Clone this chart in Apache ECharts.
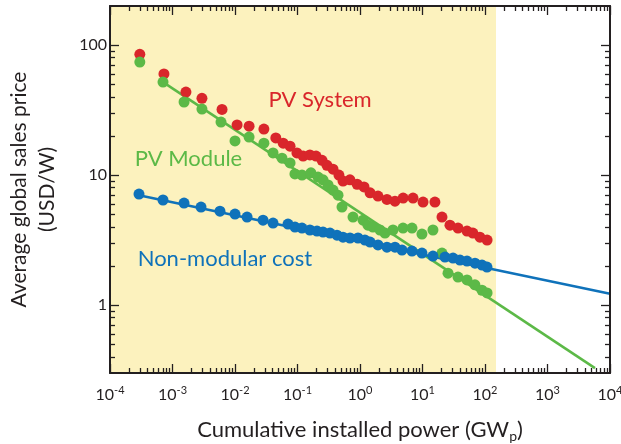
<!DOCTYPE html>
<html><head><meta charset="utf-8">
<script src="https://cdn.jsdelivr.net/npm/echarts@6/dist/echarts.min.js"></script>
<style>html,body{margin:0;padding:0;background:#fff}#c{width:621px;height:444px}</style>
</head><body><div id="c"></div>
<script>
// ---- data (cumulative installed power in GWp, price in USD/W) ----
const xTickValues = [1e-4, 1e-3, 1e-2, 1e-1, 1, 10, 100, 1e3, 1e4];
const yTickValues = [1, 10, 100];
const xRange = [1e-4, 1e4];
const yRange = [0.3, 200];
const shadedUpTo = 150;

const pvSystem = [
  [3.0e-4, 85], [7.3e-4, 60], [1.64e-3, 43.5], [2.96e-3, 39], [6.2e-3, 32],
  [0.0108, 24.3], [0.0168, 23.8], [0.029, 22.6], [0.045, 19.3], [0.059, 17.6],
  [0.076, 16.7], [0.098, 14.8], [0.123, 14.0], [0.158, 14.3], [0.198, 14.0],
  [0.247, 13.0], [0.296, 11.9], [0.37, 11.1], [0.46, 10.0], [0.535, 9.0],
  [0.69, 9.2], [0.9, 8.5], [1.16, 8.1], [1.45, 7.3], [1.94, 6.9],
  [2.7, 6.5], [3.63, 6.3], [4.9, 6.65], [7.05, 6.65], [10.2, 6.2],
  [15.8, 6.2], [20.5, 4.75], [27.5, 4.12], [37, 3.91], [51.5, 3.71],
  [64, 3.58], [83, 3.33], [108, 3.16]
];
const pvModule = [
  [3.0e-4, 74], [7.05e-4, 52], [1.53e-3, 36.5], [2.96e-3, 32.2], [5.97e-3, 25.6],
  [0.01, 18.3], [0.0168, 19.6], [0.029, 17.6], [0.0406, 14.8], [0.0565, 13.5],
  [0.076, 12.4], [0.091, 10.2], [0.118, 10.0], [0.164, 10.4], [0.213, 9.66],
  [0.256, 9.2], [0.308, 8.4], [0.37, 7.67], [0.445, 7.0], [0.515, 5.67],
  [0.773, 4.75], [1.12, 4.5], [1.34, 4.12], [1.61, 3.98], [2.09, 3.78],
  [2.51, 3.58], [3.37, 3.78], [4.88, 3.91], [6.79, 3.91], [9.8, 3.52],
  [14.7, 3.78], [20.5, 2.51], [25.6, 1.76], [37, 1.64], [51.5, 1.56],
  [69, 1.43], [89.5, 1.30], [108, 1.24]
];
const nonModular = [
  [2.91e-4, 7.14], [7.05e-4, 6.43], [1.53e-3, 6.09], [2.86e-3, 5.67], [5.75e-3, 5.28],
  [0.01, 5.01], [0.0156, 4.75], [0.0281, 4.5], [0.0406, 4.27], [0.0705, 4.2],
  [0.0912, 3.98], [0.118, 3.91], [0.158, 3.78], [0.205, 3.71], [0.256, 3.64],
  [0.331, 3.58], [0.429, 3.45], [0.535, 3.33], [0.692, 3.28], [0.929, 3.28],
  [1.2, 3.16], [1.45, 3.05], [1.94, 2.9], [2.7, 2.79], [3.63, 2.79],
  [4.7, 2.65], [6.79, 2.6], [9.8, 2.51], [14.7, 2.38], [22.9, 2.34],
  [30.8, 2.3], [39.8, 2.22], [51.5, 2.18], [69.2, 2.1], [89.5, 2.03], [107.6, 1.96]
];
const moduleFit = [[7.05e-4, 51.9], [5750, 0.327]];
const nonModularFit = [[2.9e-4, 7.0], [1e4, 1.22]];
const seriesNames = ['PV System', 'PV Module', 'Non-modular cost'];
const labelAnchors = [[0.23, 37.8], [1.8e-3, 13.3], [6.9e-3, 2.26]];

// ---- helpers ----
const L = Math.log10;
const C = { red: '#D9262B', green: '#5CB947', blue: '#0F72BA', ink: '#231F20', shade: '#FCF2BE' };
const FONT = 'Lato';
function minorTicks(range) {
  const out = [];
  for (let e = Math.floor(L(range[0])); e < Math.ceil(L(range[1])); e++) {
    for (let k = 2; k <= 9; k++) {
      const v = k * Math.pow(10, e);
      if (v > range[0] * 1.0001 && v < range[1] * 0.9999) out.push(L(v));
    }
  }
  return out;
}
const toLog = arr => arr.map(p => [L(p[0]), L(p[1])]);
const xMaj = xTickValues.map(L), yMaj = yTickValues.map(L);
const xMin = minorTicks(xRange), yMin = minorTicks(yRange);

function axis(dim, position, ticks, len, withLabel, withLine) {
  const range = dim === 'x' ? xRange : yRange;
  const a = {
    type: 'value', position, min: L(range[0]), max: L(range[1]), z: 10,
    axisLine: { show: withLine, onZero: false, lineStyle: { color: C.ink, width: 2 } },
    axisTick: { show: true, inside: true, length: len, customValues: ticks, lineStyle: { color: C.ink, width: 1.3 } },
    splitLine: { show: false },
    axisLabel: { show: false }
  };
  if (withLabel && dim === 'x') {
    a.axisLabel = {
      show: true, customValues: xMaj, margin: 12,
      formatter: v => '{b|10}{s|' + Math.round(v) + '}',
      rich: {
        b: { fontFamily: FONT, fontSize: 16, color: C.ink, lineHeight: 19 },
        s: { fontFamily: FONT, fontSize: 11, color: C.ink, lineHeight: 11, verticalAlign: 'top' }
      }
    };
    a.name = '{n|Cumulative installed power (GW}{p|p}{n|)}';
    a.nameLocation = 'middle';
    a.nameGap = 44;
    a.nameTextStyle = {
      rich: {
        n: { fontFamily: FONT, fontSize: 22, color: C.ink, lineHeight: 26 },
        p: { fontFamily: FONT, fontSize: 14, color: C.ink, lineHeight: 14, verticalAlign: 'bottom' }
      }
    };
  }
  if (withLabel && dim === 'y') {
    a.axisLabel = {
      show: true, customValues: yMaj, margin: 3,
      fontFamily: FONT, fontSize: 16, color: C.ink,
      formatter: v => String(Math.round(Math.pow(10, v)))
    };
    a.name = 'Average global sales price\n(USD/W)';
    a.nameLocation = 'middle';
    a.nameGap = 49;
    a.nameTextStyle = { fontFamily: FONT, fontSize: 21, color: C.ink, lineHeight: 28 };
  }
  return a;
}

function scatter(name, data, color) {
  return { name, type: 'scatter', data: toLog(data), symbol: 'circle', symbolSize: 11,
    itemStyle: { color, opacity: 1 }, silent: true, z: 3 };
}
function fit(data, color) {
  return { type: 'line', data: toLog(data), showSymbol: false, symbol: 'none',
    lineStyle: { color, width: 2.5 }, silent: true, z: 2 };
}
function labelPoint(i, color) {
  return { data: [{ coord: [L(labelAnchors[i][0]), L(labelAnchors[i][1])], symbol: 'circle', symbolSize: 0,
    label: { show: true, position: 'inside', formatter: seriesNames[i], color, fontFamily: FONT, fontSize: 22 } }],
    silent: true, animation: false };
}

const chart = echarts.init(document.getElementById('c'), null, { renderer: 'canvas' });
const sRed = scatter(seriesNames[0], pvSystem, C.red); sRed.markPoint = labelPoint(0, C.red);
const sGreen = scatter(seriesNames[1], pvModule, C.green); sGreen.markPoint = labelPoint(1, C.green);
const sBlue = scatter(seriesNames[2], nonModular, C.blue); sBlue.markPoint = labelPoint(2, C.blue);

chart.setOption({
  animation: false,
  grid: { left: 110, right: 11, top: 6, bottom: 71, containLabel: false, outerBoundsMode: 'none' },
  xAxis: [
    axis('x', 'bottom', xMaj, 9, true, true),
    axis('x', 'bottom', xMin, 5, false, false),
    axis('x', 'top', xMaj, 9, false, true),
    axis('x', 'top', xMin, 5, false, false)
  ],
  yAxis: [
    axis('y', 'left', yMaj, 9, true, true),
    axis('y', 'left', yMin, 5, false, false),
    axis('y', 'right', yMaj, 9, false, true),
    axis('y', 'right', yMin, 5, false, false)
  ],
  series: [
    { type: 'line', data: [], silent: true, z: 1,
      markArea: { silent: true, itemStyle: { color: C.shade, opacity: 1 },
        data: [[{ xAxis: L(xRange[0]), yAxis: L(yRange[0]) }, { xAxis: L(shadedUpTo), yAxis: L(yRange[1]) }]] } },
    fit(moduleFit, C.green),
    fit(nonModularFit, C.blue),
    sRed, sGreen, sBlue
  ]
});
</script></body></html>
